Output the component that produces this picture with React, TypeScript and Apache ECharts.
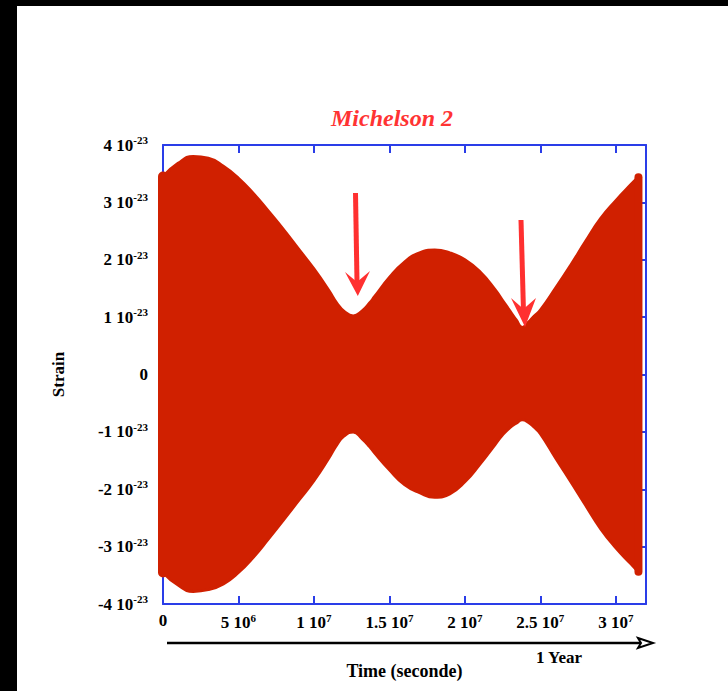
import React, { useEffect, useRef } from "react";
import * as echarts from "echarts";

// Envelope of the rapidly oscillating strain signal (time in 1e6 s, strain in 1e-23)
const timeMs = [0, 1, 2, 3, 4, 5, 6, 7, 8, 9, 10, 11, 11.5, 12, 12.6, 13.2, 13.7, 14, 15, 16, 17, 18, 19, 20, 21, 22, 22.5, 23, 23.4, 23.8, 24.2, 24.6, 25, 26, 27, 28, 29, 30, 31, 31.5];
const upperEnv = [3.45, 3.68, 3.8, 3.77, 3.63, 3.42, 3.15, 2.84, 2.52, 2.18, 1.84, 1.46, 1.25, 1.1, 1.02, 1.11, 1.25, 1.35, 1.69, 1.96, 2.12, 2.17, 2.12, 2.0, 1.79, 1.48, 1.29, 1.1, 0.95, 0.82, 0.91, 1.02, 1.12, 1.5, 1.9, 2.32, 2.72, 3.03, 3.31, 3.44];
const lowerEnv = [-3.45, -3.67, -3.78, -3.75, -3.65, -3.45, -3.18, -2.86, -2.53, -2.19, -1.85, -1.45, -1.23, -1.07, -1.0, -1.12, -1.26, -1.36, -1.66, -1.92, -2.06, -2.14, -2.08, -1.87, -1.56, -1.22, -1.05, -0.92, -0.85, -0.79, -0.83, -0.92, -1.03, -1.45, -1.86, -2.28, -2.69, -3.02, -3.3, -3.44];

const xMin = 0;
const xMax = 3.2e7;
const xInterval = 5e6;
const yMin = -4;
const yMax = 4;
const yInterval = 1;

const TITLE = "Michelson 2";
const X_NAME = "Time (seconde)";
const Y_NAME = "Strain";
const YEAR_LABEL = "1 Year";

const FILL = "#d02000";
const BLUE = "#2a3de8";
const ARROW_RED = "#ff3030";
const SERIF = "'Liberation Serif', 'Times New Roman', serif";

function xLabel(v: number): string {
  if (v === 0) return "{m|0}";
  const e = Math.floor(Math.log10(v) + 1e-9);
  const m = Math.round((v / Math.pow(10, e)) * 100) / 100;
  return `{m|${m} 10}{s|${e}}`;
}
function yLabel(v: number): string {
  if (v === 0) return "{m|0}";
  return `{m|${v} 10}{s|-23}`;
}

const rich = {
  m: { fontFamily: SERIF, fontWeight: "bold", fontSize: 17, color: "#000" },
  s: { fontFamily: SERIF, fontWeight: "bold", fontSize: 11, color: "#000", padding: [0, 0, 10, 0] },
};

export default function App() {
  const ref = useRef<HTMLDivElement>(null);
  useEffect(() => {
    document.body.style.margin = "0";
    if (!ref.current) return;
    const chart = echarts.init(ref.current, undefined, { renderer: "svg" });
    const up = timeMs.map((t, i) => [t * 1e6, upperEnv[i]]);
    const lo = timeMs.map((t, i) => [t * 1e6, lowerEnv[i]]);
    const n = timeMs.length - 1;
    const leftEdge = [up[0], lo[0]];
    const rightEdge = [up[n], lo[n]];
    const axisLine = { show: true, onZero: false, lineStyle: { color: BLUE, width: 2 } };
    const tick = { show: true, inside: true, length: 8, lineStyle: { color: BLUE, width: 2 } };
    chart.setOption({
      animation: false,
      backgroundColor: "#fff",
      title: {
        text: TITLE,
        left: 387,
        top: 101,
        textAlign: "center",
        textStyle: { fontFamily: SERIF, fontWeight: "bold", fontStyle: "italic", fontSize: 24, color: "#ff3333" },
      },
      grid: { left: 163, right: 82, top: 145, bottom: 87 },
      xAxis: [
        {
          type: "value",
          min: xMin,
          max: xMax,
          interval: xInterval,
          axisLine,
          axisTick: tick,
          splitLine: { show: false },
          axisLabel: { formatter: xLabel, rich, margin: 8, showMaxLabel: false },
          name: X_NAME,
          nameLocation: "middle",
          nameGap: 58,
          nameTextStyle: { fontFamily: SERIF, fontWeight: "bold", fontSize: 18, color: "#000" },
        },
        {
          type: "value",
          position: "top",
          min: xMin,
          max: xMax,
          interval: xInterval,
          axisLine,
          axisTick: tick,
          axisLabel: { show: false },
          splitLine: { show: false },
        },
      ],
      yAxis: [
        {
          type: "value",
          min: yMin,
          max: yMax,
          interval: yInterval,
          axisLine,
          axisTick: tick,
          splitLine: { show: false },
          axisLabel: { formatter: yLabel, rich, margin: 15 },
          name: Y_NAME,
          nameLocation: "middle",
          nameGap: 96,
          nameTextStyle: { fontFamily: SERIF, fontWeight: "bold", fontSize: 17, color: "#000" },
        },
        {
          type: "value",
          position: "right",
          min: yMin,
          max: yMax,
          interval: yInterval,
          axisLine,
          axisTick: tick,
          axisLabel: { show: false },
          splitLine: { show: false },
        },
      ],
      series: [
        {
          type: "line",
          data: up,
          smooth: 0.5,
          showSymbol: false,
          clip: false,
          lineStyle: { color: FILL, width: 3 },
          areaStyle: { color: FILL, opacity: 1, origin: -0.5 },
          z: 2,
        },
        {
          type: "line",
          data: lo,
          smooth: 0.5,
          showSymbol: false,
          clip: false,
          lineStyle: { color: FILL, width: 3 },
          areaStyle: { color: FILL, opacity: 1, origin: 0.5 },
          z: 2,
        },
        {
          type: "line",
          data: leftEdge,
          showSymbol: false,
          clip: false,
          lineStyle: { color: FILL, width: 10, cap: "round" },
          z: 2,
        },
        {
          type: "line",
          data: rightEdge,
          showSymbol: false,
          clip: false,
          lineStyle: { color: FILL, width: 8, cap: "round" },
          z: 2,
        },
      ],
      graphic: [
        { type: "rect", shape: { x: 0, y: 0, width: 728, height: 6 }, style: { fill: "#000" } },
        { type: "rect", shape: { x: 0, y: 0, width: 17, height: 691 }, style: { fill: "#000" } },
        { type: "line", shape: { x1: 167, y1: 643, x2: 645, y2: 643 }, style: { stroke: "#000", lineWidth: 2.5 } },
        {
          type: "polygon",
          shape: { points: [[638, 638], [653, 643], [638, 648], [641, 643]] },
          style: { fill: "#fff", stroke: "#000", lineWidth: 2 },
        },
        {
          type: "text",
          style: { text: YEAR_LABEL, x: 559, y: 657, align: "center", verticalAlign: "middle", fontFamily: SERIF, fontWeight: "bold", fontSize: 17, fill: "#000" },
        },
        { type: "line", shape: { x1: 355.5, y1: 193, x2: 357, y2: 282 }, style: { stroke: ARROW_RED, lineWidth: 5 }, z: 10 },
        {
          type: "polygon",
          shape: { points: [[357.8, 296], [370, 271], [357, 282], [345, 272]] },
          style: { fill: ARROW_RED },
          z: 10,
        },
        { type: "line", shape: { x1: 521, y1: 220, x2: 523.5, y2: 312 }, style: { stroke: ARROW_RED, lineWidth: 5 }, z: 10 },
        {
          type: "polygon",
          shape: { points: [[525, 327], [536, 298], [523.5, 309], [511, 298]] },
          style: { fill: ARROW_RED },
          z: 10,
        },
      ],
    });
    return () => chart.dispose();
  }, []);
  return <div ref={ref} style={{ width: 728, height: 691 }} />;
}
